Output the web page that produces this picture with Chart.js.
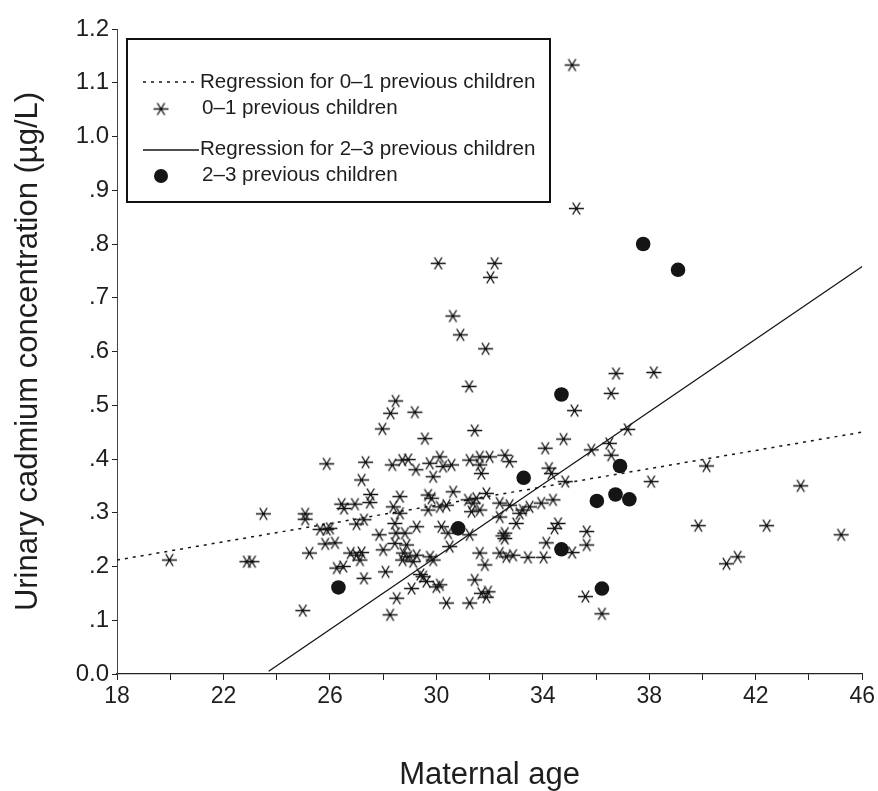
<!DOCTYPE html>
<html>
<head>
<meta charset="utf-8">
<script src="https://cdn.jsdelivr.net/npm/chart.js@4/dist/chart.umd.min.js"></script>
<style>
  html, body { margin: 0; padding: 0; background: #fff; }
  #wrap { width: 878px; height: 791px; }
</style>
</head>
<body>
<div id="wrap"><canvas id="cd_chart"></canvas></div>
<script>
// 0-1 previous children (asterisks)
const ageFew = [
  35.1, 35.26, 30.07, 32.19, 32.03, 30.62, 30.9, 31.85,
  36.75, 38.17, 36.57, 35.19, 31.23, 31.44, 29.57, 34.78, 34.09, 35.82, 36.5, 36.57, 37.19, 38.07,
  35.6, 36.22, 34.84, 34.23, 34.32, 34.38, 33.94, 34.57, 34.44, 35.65, 35.65, 34.13, 35.1, 33.44, 34.03,
  40.15, 43.69, 39.84, 42.41, 45.21, 40.9, 41.32, 19.97,
  28.47, 28.28, 29.19, 27.97, 25.88, 27.34, 28.34, 28.72, 28.94, 29.23, 29.75, 29.88, 27.19, 27.53,
  27.5, 26.44, 26.53, 26.94, 28.63, 28.38, 28.63, 29.69, 29.82, 29.69, 23.5, 25.07, 25.07, 25.63,
  25.88, 26.0, 27.0, 27.28, 25.82, 26.19, 25.23, 26.78, 27.0, 27.19, 27.13, 27.85, 28.0, 28.44,
  28.48, 28.44, 28.82, 28.88, 29.26, 28.76, 28.94, 29.26, 28.73, 29.13, 26.26, 26.5, 27.28, 28.09,
  29.76, 29.88, 29.5, 29.63, 29.4, 29.07, 28.51, 28.26, 24.98, 22.88, 23.07, 30.0,
  30.25, 30.57, 30.13, 31.25, 31.63, 32.0, 32.57, 32.75, 31.69, 31.63, 30.63, 30.13, 30.38,
  31.19, 31.38, 31.5, 31.88, 31.32, 31.63, 32.38, 32.75, 33.13, 33.25, 33.5, 33.0, 32.38,
  30.19, 30.44, 31.25, 32.57, 32.57, 32.5, 30.5, 31.63, 31.82, 32.38, 32.63, 32.88, 31.44,
  31.69, 31.94, 31.88, 30.38, 31.25, 30.13
];
const cdFew = [
  1.133, 0.866, 0.764, 0.764, 0.738, 0.666, 0.631, 0.605,
  0.559, 0.561, 0.522, 0.490, 0.535, 0.453, 0.438, 0.437, 0.420, 0.417, 0.429, 0.407, 0.455, 0.358,
  0.144, 0.112, 0.358, 0.383, 0.373, 0.324, 0.318, 0.280, 0.271, 0.265, 0.240, 0.244, 0.226, 0.217, 0.217,
  0.387, 0.350, 0.276, 0.276, 0.259, 0.205, 0.218, 0.212,
  0.508, 0.485, 0.487, 0.456, 0.391, 0.394, 0.389, 0.398, 0.399, 0.380, 0.392, 0.367, 0.361, 0.334,
  0.319, 0.316, 0.308, 0.316, 0.330, 0.311, 0.299, 0.333, 0.327, 0.305, 0.298, 0.298, 0.288, 0.269,
  0.269, 0.271, 0.279, 0.287, 0.242, 0.244, 0.225, 0.225, 0.221, 0.226, 0.212, 0.259, 0.231, 0.280,
  0.262, 0.243, 0.262, 0.240, 0.274, 0.225, 0.218, 0.221, 0.212, 0.209, 0.197, 0.200, 0.178, 0.190,
  0.218, 0.212, 0.181, 0.172, 0.185, 0.159, 0.141, 0.110, 0.118, 0.209, 0.209, 0.162,
  0.386, 0.389, 0.404, 0.398, 0.404, 0.404, 0.407, 0.395, 0.373, 0.389, 0.339, 0.311, 0.314,
  0.324, 0.318, 0.327, 0.336, 0.302, 0.305, 0.318, 0.314, 0.299, 0.305, 0.311, 0.280, 0.292,
  0.274, 0.262, 0.259, 0.262, 0.252, 0.257, 0.237, 0.225, 0.203, 0.225, 0.218, 0.221, 0.175,
  0.150, 0.153, 0.143, 0.132, 0.132, 0.166
];

// 2-3 previous children (filled circles)
const ageMany = [26.32, 30.82, 33.28, 34.70, 34.70, 36.22, 36.03, 36.73, 37.25, 36.9, 37.77, 39.08];
const cdMany = [0.161, 0.271, 0.365, 0.520, 0.232, 0.159, 0.322, 0.334, 0.325, 0.387, 0.800, 0.752];

// regression lines (end points)
const regFewX = [18, 46];
const regFewY = [0.212, 0.450];
const regManyX = [23.7, 46];
const regManyY = [0.005, 0.758];

const xTickLabels = ['18', '22', '26', '30', '34', '38', '42', '46'];
const yTickLabels = ['0.0', '.1', '.2', '.3', '.4', '.5', '.6', '.7', '.8', '.9', '1.0', '1.1', '1.2'];

const ink = '#151515';

function pairs(xs, ys) {
  return xs.map((x, i) => ({ x: x, y: ys[i] }));
}

// six spoke asterisk used as point style
function makeAsterisk() {
  const c = document.createElement('canvas');
  c.width = 17;
  c.height = 15;
  const g = c.getContext('2d');
  g.strokeStyle = ink;
  g.lineWidth = 1.4;
  g.beginPath();
  g.moveTo(1, 7.5); g.lineTo(16, 7.5);
  g.moveTo(4.8, 1.5); g.lineTo(12.2, 13.5);
  g.moveTo(12.2, 1.5); g.lineTo(4.8, 13.5);
  g.stroke();
  g.fillStyle = ink;
  g.fillRect(7.2, 6.2, 2.6, 2.6);
  return c;
}
const asterisk = makeAsterisk();

Chart.defaults.font.family = "'Liberation Sans', Arial, sans-serif";
Chart.defaults.color = '#1e1e1e';

const legendBox = {
  id: 'legendBox',
  afterDraw(chart) {
    const { ctx, chartArea } = chart;
    const ds = chart.data.datasets;
    const bx = chartArea.left + 10, by = chartArea.top + 10;
    const bw = 423, bh = 163;
    ctx.save();
    ctx.fillStyle = '#fff';
    ctx.fillRect(bx, by, bw, bh);
    ctx.strokeStyle = '#111';
    ctx.lineWidth = 2;
    ctx.strokeRect(bx, by, bw, bh);

    ctx.font = "20.6px 'Liberation Sans', Arial, sans-serif";
    ctx.fillStyle = '#1e1e1e';
    ctx.textBaseline = 'middle';

    // row 1: dotted regression
    ctx.strokeStyle = ink;
    ctx.lineWidth = 1.5;
    ctx.setLineDash([3, 5]);
    ctx.beginPath();
    ctx.moveTo(bx + 16, by + 43); ctx.lineTo(bx + 72, by + 43);
    ctx.stroke();
    ctx.setLineDash([]);
    ctx.fillText(ds[2].label, bx + 73, by + 43);

    // row 2: asterisk
    ctx.drawImage(asterisk, bx + 34 - asterisk.width / 2, by + 70 - asterisk.height / 2);
    ctx.fillText(ds[0].label, bx + 75, by + 69);

    // row 3: solid regression
    ctx.lineWidth = 1.3;
    ctx.beginPath();
    ctx.moveTo(bx + 16, by + 111); ctx.lineTo(bx + 72, by + 111);
    ctx.stroke();
    ctx.fillText(ds[3].label, bx + 73, by + 110);

    // row 4: circle
    ctx.fillStyle = ink;
    ctx.beginPath();
    ctx.arc(bx + 34, by + 137, 7, 0, Math.PI * 2);
    ctx.fill();
    ctx.fillStyle = '#1e1e1e';
    ctx.fillText(ds[1].label, bx + 75, by + 136);
    ctx.restore();
  }
};

const ctx = document.getElementById('cd_chart');

new Chart(ctx, {
  type: 'scatter',
  data: {
    datasets: [
      {
        label: '0–1 previous children',
        data: pairs(ageFew, cdFew),
        pointStyle: asterisk,
        pointRadius: 7,
        order: 2
      },
      {
        label: '2–3 previous children',
        data: pairs(ageMany, cdMany),
        pointStyle: 'circle',
        pointRadius: 7.3,
        backgroundColor: ink,
        borderColor: ink,
        borderWidth: 0,
        order: 1
      },
      {
        label: 'Regression for 0–1 previous children',
        data: pairs(regFewX, regFewY),
        showLine: true,
        pointRadius: 0,
        borderColor: ink,
        borderWidth: 1.5,
        borderDash: [3, 5],
        order: 0
      },
      {
        label: 'Regression for 2–3 previous children',
        data: pairs(regManyX, regManyY),
        showLine: true,
        pointRadius: 0,
        borderColor: ink,
        borderWidth: 1.3,
        order: 0
      }
    ]
  },
  options: {
    responsive: true,
    maintainAspectRatio: false,
    animation: false,
    layout: { padding: { top: 29, right: 15, left: 0, bottom: 0 } },
    plugins: {
      legend: { display: false },
      tooltip: { enabled: false }
    },
    scales: {
      x: {
        type: 'linear',
        min: 18,
        max: 46,
        afterFit(scale) { scale.height = 117; },
        border: { display: true, color: '#222', width: 1.2 },
        grid: { drawOnChartArea: false, drawTicks: true, tickLength: 6, color: '#222' },
        ticks: {
          stepSize: 2,
          padding: 3,
          maxRotation: 0,
          autoSkip: false,
          font: { size: 23 },
          callback: (v) => ((v - 18) % 4 === 0 ? xTickLabels[(v - 18) / 4] : '')
        },
        title: {
          display: true,
          text: 'Maternal age',
          font: { size: 31 },
          padding: { top: 0, bottom: -3 }
        }
      },
      y: {
        min: 0,
        max: 1.2,
        afterFit(scale) { scale.width = 117; },
        border: { display: true, color: '#444', width: 1 },
        grid: { drawOnChartArea: false, drawTicks: true, tickLength: 5, color: '#222' },
        ticks: {
          stepSize: 0.1,
          padding: 3,
          autoSkip: false,
          font: { size: 24 },
          callback: (v) => yTickLabels[Math.round(v * 10)]
        },
        title: {
          display: true,
          text: 'Urinary cadmium concentration (µg/L)',
          font: { size: 31 },
          padding: { top: 10, bottom: 0 }
        }
      }
    }
  },
  plugins: [legendBox]
});
</script>
</body>
</html>
